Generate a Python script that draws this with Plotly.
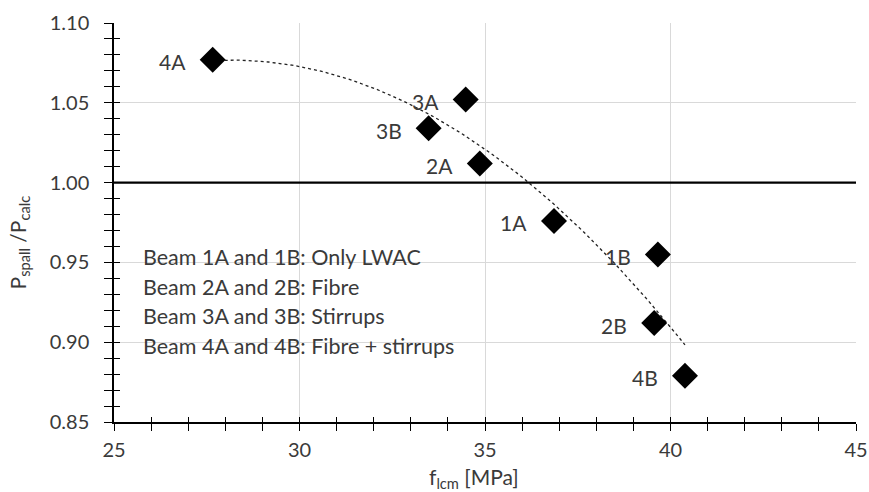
import numpy as np
import plotly.graph_objects as go

# ---- data ----
labels = ["4A", "3A", "3B", "2A", "1A", "1B", "2B", "4B"]
f_lcm = [27.66, 34.48, 33.48, 34.86, 36.86, 39.66, 39.56, 40.39]
p_ratio = [1.077, 1.052, 1.034, 1.012, 0.976, 0.955, 0.912, 0.879]
x_ticks = [25, 30, 35, 40, 45]
y_ticks = [0.85, 0.90, 0.95, 1.00, 1.05, 1.10]
y_tick_text = ["0.85", "0.90", "0.95", "1.00", "1.05", "1.10"]
reference_level = 1.0
legend_lines = [
    "Beam 1A and 1B: Only LWAC",
    "Beam 2A and 2B: Fibre",
    "Beam 3A and 3B: Stirrups",
    "Beam 4A and 4B: Fibre + stirrups",
]

FONT = "Lato"
TXT = "#3a3a3a"
X_RANGE = [25, 45]
Y_RANGE = [0.85, 1.10]

# polynomial (order 2) trendline of the data, as in the original
coef = np.polyfit(f_lcm, p_ratio, 2)
xt = np.linspace(min(f_lcm), max(f_lcm), 120)
yt = np.polyval(coef, xt)

fig = go.Figure()
fig.add_trace(go.Scatter(x=xt, y=yt, mode="lines",
                         line=dict(color="#222222", width=1.3, dash="3px,3px"),
                         hoverinfo="skip", showlegend=False))
fig.add_trace(go.Scatter(x=f_lcm, y=p_ratio, mode="markers",
                         marker=dict(symbol="diamond", size=20, color="black"),
                         showlegend=False))
# dummy trace for the overlay axes (inner half of crossing ticks)
fig.add_trace(go.Scatter(x=[None], y=[None], xaxis="x2", yaxis="y2",
                         mode="markers", showlegend=False, hoverinfo="skip"))

fig.add_shape(type="line", xref="paper", x0=0, x1=1, yref="y",
              y0=reference_level, y1=reference_level,
              line=dict(color="black", width=2.2), layer="above")

# white box behind the text block
fig.add_shape(type="rect", xref="paper", yref="paper",
              x0=0.0337, x1=0.527, y0=0.117, y1=0.450,
              fillcolor="white", line=dict(width=0), layer="between")

for lab, xv, yv in zip(labels, f_lcm, p_ratio):
    fig.add_annotation(x=xv, y=yv, text=lab, showarrow=False,
                       xanchor="right", yanchor="middle", xshift=-25, yshift=-2,
                       font=dict(family=FONT, size=21, color=TXT))

line_y = [0.413, 0.338, 0.265, 0.191]
for t, yy in zip(legend_lines, line_y):
    fig.add_annotation(xref="paper", yref="paper", x=0.0364, y=yy, text=t,
                       showarrow=False, xanchor="left", yanchor="middle",
                       font=dict(family=FONT, size=21.5, color=TXT))

fig.add_annotation(xref="paper", yref="paper", x=-0.128, y=0.45,
                   text="P<sub>spall</sub> /P<sub>calc</sub>", textangle=-90,
                   showarrow=False, xanchor="center", yanchor="middle",
                   font=dict(family=FONT, size=21, color=TXT))
fig.add_annotation(xref="paper", yref="paper", x=0.485, y=-0.141,
                   text="f<sub>lcm</sub> [MPa]",
                   showarrow=False, xanchor="center", yanchor="middle",
                   font=dict(family=FONT, size=21, color=TXT))

tickfont = dict(family=FONT, size=20, color=TXT)
fig.update_layout(
    width=869, height=492,
    margin=dict(l=114, r=13, t=23, b=70, pad=0, autoexpand=False),
    paper_bgcolor="white", plot_bgcolor="white",
    font=dict(family=FONT, color=TXT),
    xaxis=dict(range=X_RANGE, tickvals=x_ticks, ticktext=[str(v) for v in x_ticks],
               automargin=False,
               showline=True, linecolor="black", linewidth=1.5,
               ticks="outside", ticklen=7, tickwidth=1.3, tickcolor="black",
               showgrid=True, gridcolor="#d9d9d9", gridwidth=1, zeroline=False,
               minor=dict(dtick=1, ticks="outside", ticklen=7, tickwidth=1.3,
                          tickcolor="black", showgrid=False),
               tickfont=tickfont, ticklabelstandoff=2),
    yaxis=dict(range=Y_RANGE, tickvals=y_ticks, ticktext=y_tick_text,
               automargin=False,
               showline=True, linecolor="black", linewidth=1.5,
               ticks="outside", ticklen=8, tickwidth=1.3, tickcolor="black",
               showgrid=True, gridcolor="#d9d9d9", gridwidth=1, zeroline=False,
               minor=dict(dtick=0.01, ticks="outside", ticklen=8, tickwidth=1.3,
                          tickcolor="black", showgrid=False),
               tickfont=tickfont, ticklabelstandoff=11),
    xaxis2=dict(range=X_RANGE, overlaying="x", anchor="y2", side="bottom",
                automargin=False,
                tickvals=x_ticks, showticklabels=False, showgrid=False,
                zeroline=False, showline=False,
                ticks="inside", ticklen=5, tickwidth=1.3, tickcolor="black",
                minor=dict(dtick=1, ticks="inside", ticklen=5, tickwidth=1.3,
                           tickcolor="black", showgrid=False)),
    yaxis2=dict(range=Y_RANGE, overlaying="y", anchor="x2", side="left",
                automargin=False,
                tickvals=y_ticks, showticklabels=False, showgrid=False,
                zeroline=False, showline=False,
                ticks="inside", ticklen=6, tickwidth=1.3, tickcolor="black",
                minor=dict(dtick=0.01, ticks="inside", ticklen=6, tickwidth=1.3,
                           tickcolor="black", showgrid=False)),
)

fig.write_html("out.html")
